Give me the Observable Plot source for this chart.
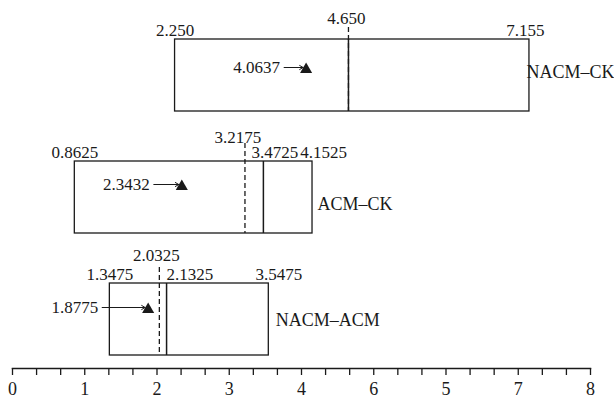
<!DOCTYPE html>
<html><head><meta charset="utf-8">
<script src="https://cdn.jsdelivr.net/npm/d3@7"></script>
<script src="https://cdn.jsdelivr.net/npm/@observablehq/plot@0.6"></script>
<style>
  html,body{margin:0;padding:0;background:#fff;}
  #chart svg{font-family:"Liberation Serif","Times New Roman",serif;}
</style>
</head><body><div id="chart"></div>
<script>
// ---- data ----
const groups = ["NACM–CK", "ACM–CK", "NACM–ACM"];
const lowerValues = [2.250, 0.8625, 1.3475];
const upperValues = [7.155, 4.1525, 3.5475];
const dashedValues = [4.650, 3.2175, 2.0325];
const solidValues = [4.650, 3.4725, 2.1325];
const markerValues = [4.0637, 2.3432, 1.8775];
const lowerLabels = ["2.250", "0.8625", "1.3475"];
const upperLabels = ["7.155", "4.1525", "3.5475"];
const dashedLabels = ["4.650", "3.2175", "2.0325"];
const solidLabels = ["", "3.4725", "2.1325"];
const markerLabels = ["4.0637", "2.3432", "1.8775"];
const tickLabels = ["0", "1", "2", "3", "4", "6", "5", "7", "8"];

const rows = groups.map((g, i) => ({
  group: g, lower: lowerValues[i], upper: upperValues[i], dashed: dashedValues[i],
  solid: solidValues[i], marker: markerValues[i], lowerLabel: lowerLabels[i],
  upperLabel: upperLabels[i], dashedLabel: dashedLabels[i], solidLabel: solidLabels[i],
  markerLabel: markerLabels[i]
}));

// ---- layout (pixels) ----
const W = 614, H = 398, mL = 12, mR = 24, mB = 30, mT = 0;
const pxPerUnit = (W - mL - mR) / 8;
const layout = [
  {upperDx: -4, solidDx: 0, dashDx: -2, dashDy: -52, dashInset: -12, triDy: -6, arrowLen: 22, nameDx: -3, nameDy: -3},
  {upperDx: 11, solidDx: -12, dashDx: -7, dashDy: -55, dashInset: -18, triDy: -11, arrowLen: 28, nameDx: 5, nameDy: 7},
  {upperDx: 10, solidDx: 0, dashDx: -3, dashDy: -59, dashInset: -16, triDy: -10, arrowLen: 46, nameDx: 7, nameDy: 1}
];
const ink = "#1a1a1a";
const fs = 18;   // axis & names
const fn = 17;   // numeric labels

const rowMarks = rows.flatMap((r, i) => {
  const L = layout[i];
  const d = [r];
  const arrowStart = r.marker - L.arrowLen / pxPerUnit;
  return [
    Plot.barX(d, {x1: "lower", x2: "upper", y: "group", fill: "none", stroke: ink, strokeWidth: 1.3}),
    Plot.tickX(d, {x: "solid", y: "group", stroke: ink, strokeWidth: 1.5}),
    Plot.tickX(d, {x: "dashed", y: "group", stroke: ink, strokeWidth: 1.3, strokeDasharray: "5,3", insetTop: L.dashInset}),
    Plot.text(d, {x: "lower", y: "group", text: "lowerLabel", lineAnchor: "bottom", dy: -40, fontSize: fn, fill: ink}),
    Plot.text(d, {x: "upper", y: "group", text: "upperLabel", lineAnchor: "bottom", dy: -40, dx: L.upperDx, fontSize: fn, fill: ink}),
    Plot.text(d, {x: "solid", y: "group", text: "solidLabel", lineAnchor: "bottom", textAnchor: "start", dy: -40, dx: L.solidDx, fontSize: fn, fill: ink}),
    Plot.text(d, {x: "dashed", y: "group", text: "dashedLabel", lineAnchor: "bottom", dy: L.dashDy, dx: L.dashDx, fontSize: fn, fill: ink}),
    Plot.dot(d, {x: "marker", y: "group", symbol: "triangle", r: 4.5, fill: ink, dy: L.triDy}),
    Plot.arrow(d, {x1: () => arrowStart, x2: (e) => e.marker - 3 / pxPerUnit, y1: "group", y2: "group", dy: L.triDy - 2, stroke: ink, strokeWidth: 1, headLength: 6}),
    Plot.text(d, {x: () => arrowStart, y: "group", text: "markerLabel", textAnchor: "end", dx: -4, dy: L.triDy - 2, fontSize: fn, fill: ink}),
    Plot.text(d, {x: "upper", y: "group", text: "group", textAnchor: "start", dx: L.nameDx, dy: L.nameDy, fontSize: fs, fill: ink})
  ];
});

const chart = Plot.plot({
  width: W, height: H,
  marginLeft: mL, marginRight: mR, marginTop: mT, marginBottom: mB,
  style: {fontFamily: "Liberation Serif, serif", fontSize: fs + "px", background: "#fff", overflow: "visible"},
  x: {domain: [0, 8], axis: null},
  y: {type: "band", domain: groups, range: [39, 355], paddingInner: 0.41, paddingOuter: 0, axis: null},
  marks: [
    Plot.frame({anchor: "bottom", stroke: ink, strokeWidth: 1.5}),
    Plot.axisX({
      ticks: d3.range(25).map(k => k / 3),
      tickSize: 7, tickPadding: 7, label: null,
      tickFormat: (v) => Math.abs(v - Math.round(v)) < 1e-6 ? tickLabels[Math.round(v)] : "",
      fontSize: fs, stroke: ink, strokeWidth: 1.3, fill: ink
    }),
    ...rowMarks
  ]
});
document.getElementById("chart").appendChild(chart);
</script>
</body></html>
